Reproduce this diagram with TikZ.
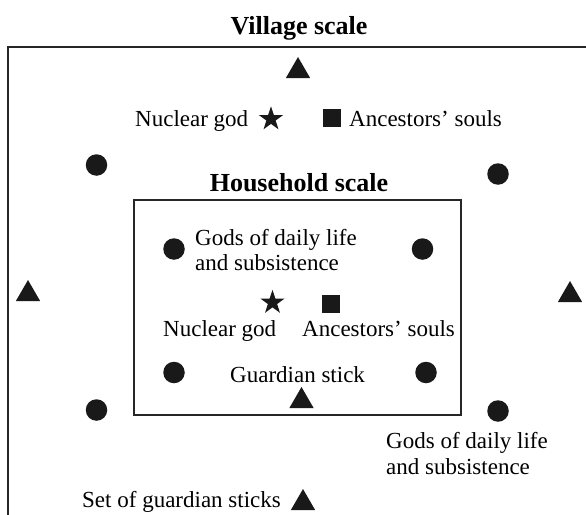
\documentclass[tikz,border=0pt]{standalone}
\usepackage{fontspec}
\setmainfont{Liberation Serif}
\usetikzlibrary{shapes.geometric}
\begin{document}
\begin{tikzpicture}[x=1pt,y=-1pt,
  txt/.style={inner sep=0pt,anchor=base west,font=\fontsize{23}{27}\selectfont},
  ttl/.style={inner sep=0pt,anchor=base,font=\fontsize{26}{30}\selectfont\bfseries},
  tri/.style={regular polygon,regular polygon sides=3,fill=black!90,inner sep=0pt,minimum size=28pt},
  dot/.style={circle,fill=black!90,inner sep=0pt,minimum size=21.5pt},
  sq/.style={rectangle,fill=black!90,inner sep=0pt,minimum size=18.5pt},
  starn/.style={star,star points=5,star point ratio=2.618,fill=black!90,inner sep=0pt,minimum size=25.5pt},
  frame/.style={draw=black!85,line width=1.2pt}]
\useasboundingbox (0,0) rectangle (586,514);
\fill[white] (0,0) rectangle (586,514);
\begin{scope}
  \clip (0,0) rectangle (586,514);
  \draw[frame] (8,47) rectangle (640,580);
\end{scope}
\draw[frame] (134,200) rectangle (461,415);
% titles
\node[ttl] (vtitle) at (299,34) {Village scale};
\node[ttl] (htitle) at (299,191) {Household scale};
% village scale
\node[tri] (vtop) at (298,71) {};
\node[tri] (vleft) at (28,294) {};
\node[tri] (vright) at (570,295) {};
\node[tri] (vbottom) at (303,503) {};
\node[txt] (vnuc) at (135,126) {Nuclear god};
\node[starn] (vstar) at (271,119) {};
\node[sq] (vsq) at (332,118) {};
\node[txt] (vanc) at (349,126) {Ancestors’ souls};
\node[dot] (vd1) at (96.5,165) {};
\node[dot] (vd2) at (498,174) {};
\node[dot] (vd3) at (96.5,410) {};
\node[dot] (vd4) at (498,411) {};
\node[txt] (vgods1) at (386,448) {Gods of daily life};
\node[txt] (vgods2) at (386,474) {and subsistence};
\node[txt] (vset) at (82,507) {Set of guardian sticks};
% household scale
\node[dot] (hd1) at (174,249) {};
\node[dot] (hd2) at (422.5,249) {};
\node[dot] (hd3) at (174,372.5) {};
\node[dot] (hd4) at (426,372.5) {};
\node[txt] (hgods1) at (195,245) {Gods of daily life};
\node[txt] (hgods2) at (195,270) {and subsistence};
\node[starn] (hstar) at (272.5,302.5) {};
\node[sq] (hsq) at (331,304) {};
\node[txt] (hnuc) at (163,336) {Nuclear god};
\node[txt] (hanc) at (302,336) {Ancestors’ souls};
\node[txt] (hguard) at (230,382) {Guardian stick};
\node[tri] (htri) at (301.5,401) {};
\end{tikzpicture}
\end{document}
